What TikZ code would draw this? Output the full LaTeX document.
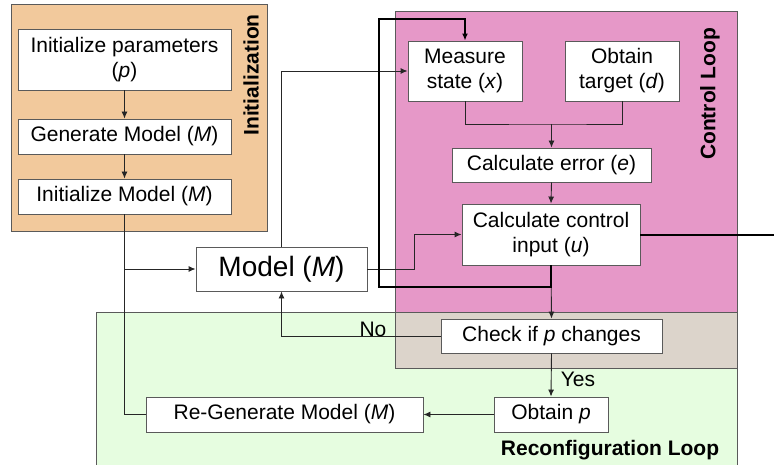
\documentclass[tikz,border=0pt]{standalone}
\usepackage{fontspec}
\setmainfont{Liberation Sans}
\usetikzlibrary{arrows.meta}
\definecolor{initc}{HTML}{F2C99C}
\definecolor{ctrlc}{HTML}{E698C8}
\definecolor{recc}{HTML}{E6FDE0}
\definecolor{overc}{HTML}{DCD4CB}
\definecolor{edgec}{HTML}{5A5A5A}
\tikzset{
  region/.style={draw=edgec, line width=1pt},
  box/.style={draw=edgec, fill=white, line width=0.9pt, inner sep=0pt, align=center,
    font=\fontsize{21}{25}\selectfont},
  lbl/.style={font=\fontsize{21}{25}\selectfont\bfseries, inner sep=0pt},
  plain/.style={font=\fontsize{21}{25}\selectfont, inner sep=0pt},
  conn/.style={draw=black!85, line width=0.9pt},
  arr/.style={conn, -{Latex[length=7pt,width=6pt]}},
  heavy/.style={draw=black, line width=2.4pt},
}
\begin{document}
\begin{tikzpicture}[x=1pt,y=-1pt]
\useasboundingbox (0,0) rectangle (774,465);
% regions
\path[region, fill=initc] (11,5) rectangle (267,232);
\path[region, fill=ctrlc] (395,12) rectangle (737,368);
\path[region, fill=recc] (96,312) rectangle (737,475);
\path[region, fill=overc] (395,312) rectangle (737,368);
\node[lbl, rotate=90] (tinit) at (251,75) {Initialization};
\node[lbl, rotate=90] (tctrl) at (710,94) {Control Loop};
\node[lbl] (trec) at (610,450) {Reconfiguration Loop};
% boxes
\node[box, minimum width=213pt, minimum height=61pt] (initp) at (124.5,59.5) {Initialize parameters\\(\textit{p})};
\node[box, minimum width=213pt, minimum height=35pt] (genm) at (124.5,136.5) {Generate Model (\textit{M})};
\node[box, minimum width=213pt, minimum height=35pt] (initm) at (124.5,196.5) {Initialize Model (\textit{M})};
\node[box, minimum width=171pt, minimum height=44pt, font=\fontsize{28}{32}\selectfont] (model) at (281.5,269) {Model (\textit{M})};
\node[box, minimum width=114pt, minimum height=60pt] (meas) at (465,71) {Measure\\state (\textit{x})};
\node[box, minimum width=114pt, minimum height=60pt] (targ) at (622,71) {Obtain\\target (\textit{d})};
\node[box, minimum width=199pt, minimum height=34pt] (err) at (551.5,165) {Calculate error (\textit{e})};
\node[box, minimum width=178pt, minimum height=61pt] (ctrl) at (551,234.5) {Calculate control\\input (\textit{u})};
\node[box, minimum width=221pt, minimum height=34pt] (check) at (551.5,336) {Check if \textit{p} changes};
\node[box, minimum width=114pt, minimum height=35pt] (obtp) at (551,414.5) {Obtain \textit{p}};
\node[box, minimum width=277pt, minimum height=35pt] (regen) at (284.5,414.5) {Re-Generate Model (\textit{M})};
% helper coordinates
\coordinate (join) at (initm.south |- model.west);
\coordinate (mt) at (551.5,124);
\coordinate (mbend) at (414,269);
\coordinate (lpA) at (551,287);
\coordinate (lpB) at (379,19);
\coordinate (outR) at (774,235);
% connectors
\draw[arr] (initp) -- (genm);
\draw[arr] (genm) -- (initm);
\draw[arr] (initm.south) |- (model.west);
\draw[conn] (regen.west) -| (join);
\draw[arr] (model.north) |- (meas.west);
\draw[arr] (model.east) -- (mbend) |- (ctrl.west);
\draw[conn] (meas.south) |- (mt) -| (targ.south);
\draw[arr] (mt) -- (err.north);
\draw[arr] (err.south) -- (ctrl.north);
\draw[arr] (ctrl.south) -- (check.north);
\draw[heavy, -{Latex[length=7pt,width=6pt]}] (ctrl.south) -- (lpA) -| (lpB) -| (meas.north);
\draw[heavy] (ctrl.east |- outR) -- (outR);
\draw[arr] (check.west) -| (model.south);
\node[plain] (no) at (373,329) {No};
\draw[arr] (check.south) -- (obtp.north);
\node[plain] (yes) at (578,379) {Yes};
\draw[arr] (obtp.west) -- (regen.east);
\end{tikzpicture}
\end{document}
